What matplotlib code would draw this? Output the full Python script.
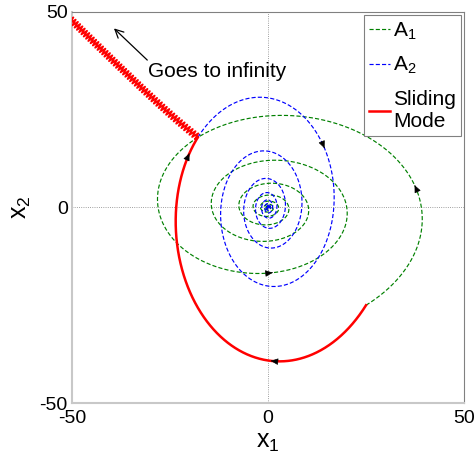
import numpy as np
import matplotlib.pyplot as plt

plt.rcParams['font.family'] = 'Liberation Sans'
plt.rcParams['mathtext.fontset'] = 'custom'
plt.rcParams['mathtext.rm'] = 'Liberation Sans'
plt.rcParams['mathtext.it'] = 'Liberation Sans'
plt.rcParams['axes.unicode_minus'] = False

# subsystem matrices
A1 = np.array([[-0.15, -2.0],
               [1.0, -0.15]])
A2 = np.array([[-0.15, 1.0],
               [-2.0, -0.15]])

x0 = np.array([25.0, -25.0])   # common initial state
t_end = 40.0
dt = 0.002
h_slide = 0.8                  # euler step scale on the sliding surface
lim = 50

# points where direction arrows go (x1, x2)
arrows_A1 = [(36.7, 5.2), (1.0, -16.2)]
arrows_A2 = [(13.8, 15.0)]
arrows_sm = [(0.9, -38.4), (-20.5, 13.9)]


def rk4_matrix(A, h):
    M = h * A
    I = np.eye(2)
    return I + M + M @ M / 2 + M @ M @ M / 6 + M @ M @ M @ M / 24


def simulate(A, x_start, T):
    M = rk4_matrix(A, dt)
    n = int(T / dt)
    X = np.zeros((n + 1, 2))
    X[0] = x_start
    for k in range(n):
        X[k + 1] = M @ X[k]
    return X


def switched(x_start):
    # A2 while s = x1 + x2 < 0, then chattering between A1 and A2 on s = 0
    M2 = rk4_matrix(A2, dt)
    x = M2 @ x_start
    pts = [x_start.copy(), x.copy()]
    while x[0] + x[1] < 0:
        x = M2 @ x
        pts.append(x.copy())
    j = len(pts) - 1
    # half step first so the chatter stays centred on s = 0
    x = x + 0.5 * h_slide / abs(x[0]) * (A1 @ x)
    pts.append(x.copy())
    k = 1
    while abs(x[0]) < lim + 3 and abs(x[1]) < lim + 3:
        A = A1 if k % 2 == 0 else A2
        h = h_slide / abs(x[0])
        x = x + h * (A @ x)
        pts.append(x.copy())
        k += 1
    return np.array(pts), j


def add_arrow(ax, X, p):
    d = np.hypot(X[:, 0] - p[0], X[:, 1] - p[1])
    i = int(np.argmin(d))
    ax.annotate('', xy=X[i + 2], xytext=X[i],
                arrowprops=dict(arrowstyle='-|>,head_length=0.45,head_width=0.2',
                                color='k', lw=0.5, shrinkA=0, shrinkB=0,
                                mutation_scale=10), zorder=6)


X_sm, j = switched(x0)
X_1 = simulate(A1, x0, t_end)
X_2 = simulate(A2, X_sm[j], t_end)

fig = plt.figure(figsize=(4.76, 4.61), dpi=100)
ax = fig.add_axes([0.1513, 0.1258, 0.8235, 0.8482])

ax.axhline(0, color='#808080', ls=':', lw=0.6, zorder=0.5)
ax.axvline(0, color='#808080', ls=':', lw=0.6, zorder=0.5)

ax.plot(X_1[:, 0], X_1[:, 1], color='#008000', lw=0.85, dashes=(3.5, 1.8), label='A$_1$')
ax.plot(X_2[:, 0], X_2[:, 1], color='#0000ff', lw=0.85, dashes=(3.5, 1.8), label='A$_2$')
ax.plot(X_sm[:j + 1, 0], X_sm[:j + 1, 1], color='#ff0000', lw=1.8,
        label='Sliding\nMode', zorder=4)
ax.plot(X_sm[j:, 0], X_sm[j:, 1], color='#ff0000', lw=1.3, zorder=4)

for p in arrows_A1:
    add_arrow(ax, X_1, p)
for p in arrows_A2:
    add_arrow(ax, X_2, p)
for p in arrows_sm:
    add_arrow(ax, X_sm[:j], p)

ax.annotate('', xy=(-39.3, 45.8), xytext=(-30.8, 37.7),
            arrowprops=dict(arrowstyle='->,head_length=0.5,head_width=0.25',
                            color='k', lw=0.9, shrinkA=0, shrinkB=0, mutation_scale=12))
ax.text(-30.6, 34.9, 'Goes to infinity', fontsize=15, ha='left', va='center')

ax.set_xlim(-lim, lim)
ax.set_ylim(-lim, lim)
ax.set_xticks([-50, 0, 50])
ax.set_yticks([-50, 0, 50])
ax.tick_params(axis='x', length=0, pad=5, labelsize=14)
ax.tick_params(axis='y', length=0, pad=3, labelsize=14)
ax.set_xlabel('x$_\\mathregular{1}$', fontsize=18, labelpad=2)
ax.set_ylabel('x$_\\mathregular{2}$', fontsize=18, labelpad=5)

for side in ['left', 'bottom']:
    ax.spines[side].set_color('#c8c8c8')
    ax.spines[side].set_linewidth(1.5)
for side in ['top', 'right']:
    ax.spines[side].set_color('#808080')
    ax.spines[side].set_linewidth(0.8)

leg = ax.legend(loc='upper right', fontsize=15, handlelength=1.0,
                handletextpad=0.15, borderaxespad=0.15, borderpad=0.25,
                labelspacing=0.65, fancybox=False, framealpha=1)
leg.get_frame().set_edgecolor('#808080')
leg.get_frame().set_linewidth(0.8)

fig.savefig('out.png', dpi=100)
